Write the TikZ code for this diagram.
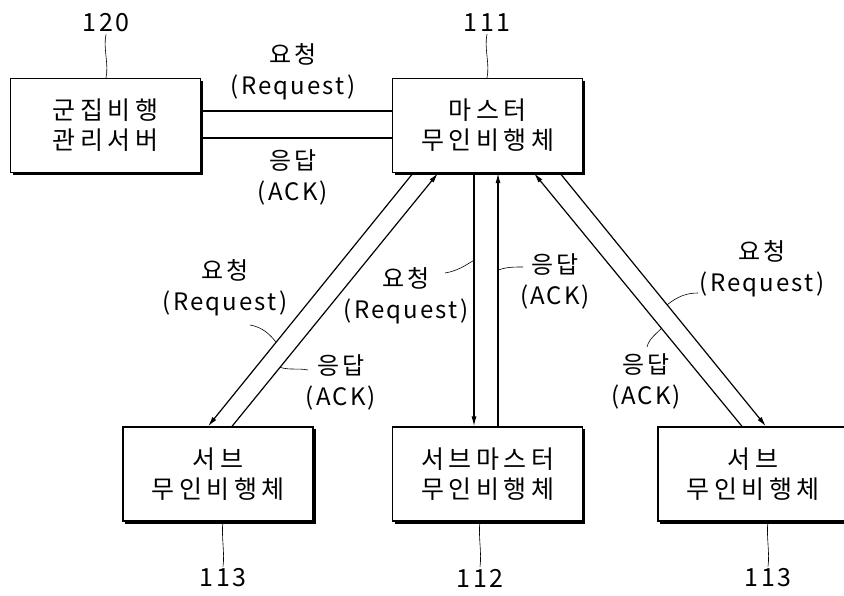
\documentclass[tikz,border=0pt]{standalone}
\usepackage{fontspec}
\setmainfont[LetterSpace=9]{Noto Sans CJK KR}
\newfontfamily\unitfont[LetterSpace=18]{Noto Sans CJK KR}
\usetikzlibrary{arrows.meta,positioning}

\begin{document}
\begin{tikzpicture}[x=1pt, y=-1pt,
    unit/.style={draw, line width=1.3pt, fill=white, minimum width=190pt, minimum height=94pt, align=center, font=\unitfont\fontsize{25}{30}\selectfont},
    msg/.style={align=center, inner sep=0pt, font=\fontsize{24}{31}\selectfont},
    refnum/.style={inner sep=2pt, font=\fontsize{25}{30}\selectfont},
    link/.style={line width=1.2pt},
    arrow/.style={-{Latex[length=10pt,width=5pt]}, line width=1.2pt},
    leader/.style={line width=0.6pt}
]

% page frame
\path[use as bounding box] (0,0) rectangle (844,596);
\clip (0,0) rectangle (844,596);

% server, master and the three members of the swarm
\node[unit] (server) at (105.5,125.5) {군집비행\\관리서버};
\node[unit] (master) at (487.5,125.5) {마스터\\무인비행체};
\node[unit] (subL) at (218,474) {서브\\무인비행체};
\node[unit] (submaster) at (487.5,474) {서브마스터\\무인비행체};
\node[unit] (subR) at (753,474) {서브\\무인비행체};

% heavier right and bottom edges
\foreach \b in {server,master,subL,submaster,subR}
  \draw[line width=2pt] ([shift={(1pt,-3pt)}]\b.north east) -- ([shift={(1pt,-1pt)}]\b.south east) -- ([shift={(3pt,-1pt)}]\b.south west);

% reference numbers
\node[refnum] (n120) at (106,23) {120};
\node[refnum] (n111) at (487,23) {111};
\node[refnum] (n113a) at (223,578) {113};
\node[refnum] (n112) at (480,578) {112};
\node[refnum] (n113b) at (768,578) {113};

\draw[leader] (n120.south) .. controls +(-3,14) and +(3,-14) .. (server.north -| n120.south);
\draw[leader] (n111.south) .. controls +(-3,14) and +(3,-14) .. (master.north -| n111.south);
\draw[leader] (subL.south -| n113a.north) .. controls +(-2,14) and +(2,-14) .. (n113a.north);
\draw[leader] (submaster.south -| n112.north) .. controls +(-2,14) and +(2,-14) .. (n112.north);
\draw[leader] (subR.south -| n113b.north) .. controls +(-2,14) and +(2,-14) .. (n113b.north);

% server <-> master
\draw[link] ([yshift=14.5pt]server.east) -- ([yshift=14.5pt]server.east -| master.west);
\draw[link] ([yshift=-12.5pt]server.east) -- ([yshift=-12.5pt]server.east -| master.west);
\node[msg] (lblReqTop) at (293,71.5) {요청\\(Request)};
\node[msg] (lblAckTop) at (293,177) {응답\\(ACK)};

% master <-> left sub
\draw[arrow] ([xshift=-74.5pt]master.south) -- ([xshift=-10pt]subL.north) coordinate[pos=0.668] (reqL);
\draw[arrow] ([xshift=14pt]subL.north) -- ([xshift=-49.5pt]master.south) coordinate[pos=0.233] (ackL);
\node[msg] (lblReqL) at (225,287.5) {요청\\(Request)};
\node[msg] (lblAckL) at (341,382.5) {응답\\(ACK)};
\draw[leader] ([shift={(25,37.5)}]lblReqL.center) .. controls +(12,2) and +(-6,-8) .. (reqL);
\draw[leader] ([shift={(-33,-12.5)}]lblAckL.center) .. controls +(-10,-2) and +(10,3) .. (ackL);

% master <-> sub master
\draw[arrow] ([xshift=-13.5pt]master.south) -- ([xshift=-13.5pt]submaster.north) coordinate[pos=0.344] (reqM);
\draw[arrow] ([xshift=10.5pt]submaster.north) -- ([xshift=10.5pt]master.south) coordinate[pos=0.617] (ackM);
\node[msg] (lblReqM) at (406,296) {요청\\(Request)};
\node[msg] (lblAckM) at (555,281) {응답\\(ACK)};
\draw[leader] ([shift={(39,-23)}]lblReqM.center) .. controls +(12,-2) and +(-10,6) .. (reqM);
\draw[leader] ([shift={(-32,-14)}]lblAckM.center) .. controls +(-10,0) and +(8,-3) .. (ackM);

% master <-> right sub
\draw[arrow] ([xshift=72.5pt]master.south) -- ([xshift=13pt]subR.north) coordinate[pos=0.52] (reqR);
\draw[arrow] ([xshift=-11pt]subR.north) -- ([xshift=46.5pt]master.south) coordinate[pos=0.387] (ackR);
\node[msg] (lblReqR) at (762,269) {요청\\(Request)};
\node[msg] (lblAckR) at (646,381) {응답\\(ACK)};
\draw[leader] ([shift={(-64,24)}]lblReqR.center) .. controls +(-12,0) and +(10,-8) .. (reqR);
\draw[leader] ([shift={(1,-34)}]lblAckR.center) .. controls +(2,-8) and +(-6,6) .. (ackR);

\end{tikzpicture}
\end{document}
